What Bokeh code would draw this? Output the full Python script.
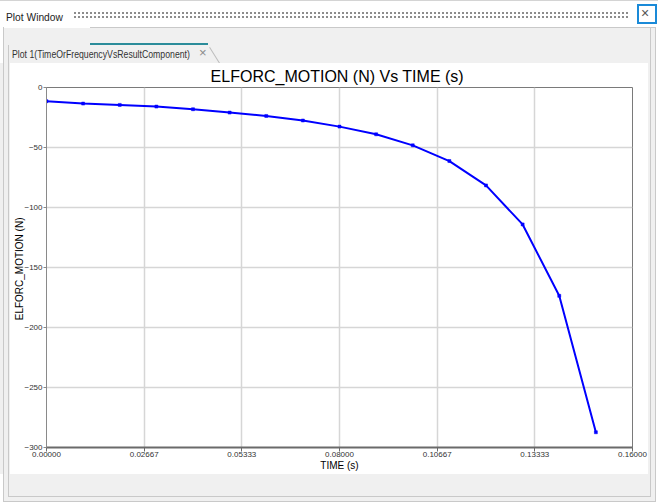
from bokeh.plotting import figure
from bokeh.models import Range1d, FixedTicker, PrintfTickFormatter, Div, Title
from bokeh.layouts import column, row
from bokeh.embed import file_html
from bokeh.resources import INLINE

# ---- data ----
time_s = [0.00, 0.01, 0.02, 0.03, 0.04, 0.05, 0.06, 0.07,
          0.08, 0.09, 0.10, 0.11, 0.12, 0.13, 0.14, 0.15]
elforc_motion = [-11.4, -13.4, -14.5, -15.9, -18.1, -20.9, -23.7, -27.5,
                 -32.6, -39.0, -48.2, -61.3, -81.6, -114.1, -173.6, -287.3]
x_ticks = [0.0, 0.16 / 6, 0.32 / 6, 0.08, 0.64 / 6, 0.80 / 6, 0.16]
y_ticks = [0, -50, -100, -150, -200, -250, -300]

title_text = "ELFORC_MOTION  (N) Vs TIME (s)"
x_label = "TIME (s)"
y_label = "ELFORC_MOTION  (N)"
window_title = "Plot Window"
tab_title = "Plot 1(TimeOrFrequencyVsResultComponent)"

CHART_FONT = "Liberation Sans"
UI_FONT = "Liberation Sans"
BAND = "#f0f0f0"
EDGE = "#c9c9c9"

# ---- window chrome: header (658 x 63) ----
header_html = f"""
<div style="position:relative;width:658px;height:63px;overflow:hidden;background:#ffffff;font-family:'{UI_FONT}';">
  <div style="position:absolute;left:0;top:0;width:658px;height:1px;background:#d4d4d4;"></div>
  <div style="position:absolute;left:6px;top:10px;font-size:11px;line-height:14px;color:#222;white-space:nowrap;
       transform:scaleX(0.93);transform-origin:0 0;">{window_title}</div>
  <div style="position:absolute;left:74px;top:12px;width:556px;height:7px;
       background-image:radial-gradient(circle at 1px 1px,#8c8c8c 0.9px,transparent 1.2px);
       background-size:4px 4px;"></div>
  <div style="position:absolute;left:637px;top:4px;width:20px;height:20px;box-sizing:border-box;border:2px solid #1a8ad8;"></div>
  <div style="position:absolute;left:641px;top:6px;font-size:14px;line-height:14px;color:#555;">&#215;</div>
  <div style="position:absolute;left:3px;top:28px;width:652px;height:35px;background:{BAND};"></div>
  <div style="position:absolute;left:90px;top:27px;width:566px;height:1px;background:{EDGE};"></div>
  <div style="position:absolute;left:3px;top:27px;width:1px;height:36px;background:{EDGE};"></div>
  <div style="position:absolute;left:8px;top:45px;width:1px;height:18px;background:{EDGE};"></div>
  <div style="position:absolute;left:650px;top:27px;width:1px;height:36px;background:{EDGE};"></div>
  <div style="position:absolute;left:655px;top:27px;width:1px;height:36px;background:{EDGE};"></div>
  <div style="position:absolute;left:90px;top:43px;width:118px;height:2px;background:#2b8c9a;"></div>
  <div style="position:absolute;left:12px;top:47px;font-size:10.5px;line-height:14px;color:#333;white-space:nowrap;
       transform:scaleX(0.83);transform-origin:0 0;">{tab_title}</div>
  <div style="position:absolute;left:199px;top:46px;font-size:13px;line-height:14px;color:#8a8a8a;">&#215;</div>
  <div style="position:absolute;left:210px;top:47px;width:19px;height:1px;background:#bdbdbd;transform-origin:0 0;transform:rotate(58deg);"></div>
</div>
"""
header = Div(text=header_html, width=658, height=63, margin=0)

# ---- the chart ----
p = figure(width=638, height=411,
           x_range=Range1d(0, 0.16), y_range=Range1d(-300, 0),
           output_backend="svg", toolbar_location=None,
           min_border_left=36, min_border_right=16,
           min_border_top=24, min_border_bottom=27)

p.title = Title(text=title_text, align="center", text_font=CHART_FONT,
                text_font_size="16px", text_font_style="normal",
                text_color="#000000", standoff=5)

p.background_fill_color = "#ffffff"
p.border_fill_color = "#ffffff"
p.outline_line_color = "#7a7a7a"
p.outline_line_width = 1

p.xaxis.ticker = FixedTicker(ticks=x_ticks)
p.yaxis.ticker = FixedTicker(ticks=y_ticks)
p.xaxis.formatter = PrintfTickFormatter(format="%.5f")
p.xgrid.ticker = FixedTicker(ticks=x_ticks)
p.ygrid.ticker = FixedTicker(ticks=y_ticks)

for g in (p.xgrid, p.ygrid):
    g.grid_line_color = "#d6d6d6"
    g.grid_line_width = 1.5

p.xaxis.axis_label = x_label
p.yaxis.axis_label = y_label

for ax in (p.xaxis, p.yaxis):
    ax.axis_label_text_font = CHART_FONT
    ax.axis_label_text_font_style = "normal"
    ax.axis_label_text_font_size = "10px"
    ax.axis_label_text_color = "#000000"
    ax.major_label_text_font = CHART_FONT
    ax.major_label_text_font_size = "8px"
    ax.major_label_text_color = "#333333"
    ax.minor_tick_line_color = None
    ax.major_tick_in = 0

p.xaxis.axis_line_color = "#6a6a6a"
p.xaxis.axis_line_width = 2
p.xaxis.major_tick_line_color = "#6a6a6a"
p.xaxis.major_tick_out = 4
p.xaxis.major_label_standoff = 0
p.xaxis.axis_label_standoff = 0

p.yaxis.axis_line_color = "#8a8a8a"
p.yaxis.axis_line_width = 1
p.yaxis.major_tick_line_color = "#8a8a8a"
p.yaxis.major_tick_out = 3
p.yaxis.major_label_standoff = 1
p.yaxis.axis_label_standoff = -4

p.line(time_s, elforc_motion, line_color="#0000ff", line_width=2)
p.scatter(time_s, elforc_motion, marker="square", size=3,
          fill_color="#0000ff", line_color="#0000ff", line_width=0.5)

# ---- side strips (10 x 411 each) ----
left_html = f"""
<div style="position:relative;width:10px;height:411px;background:{BAND};">
  <div style="position:absolute;left:3px;top:0;width:1px;height:411px;background:{EDGE};"></div>
  <div style="position:absolute;left:8px;top:0;width:1px;height:411px;background:{EDGE};"></div>
</div>
"""
right_html = f"""
<div style="position:relative;width:10px;height:411px;background:{BAND};">
  <div style="position:absolute;left:2px;top:0;width:1px;height:411px;background:{EDGE};"></div>
  <div style="position:absolute;left:7px;top:0;width:1px;height:411px;background:{EDGE};"></div>
  <div style="position:absolute;left:8px;top:0;width:2px;height:411px;background:#ffffff;"></div>
</div>
"""
left_strip = Div(text=left_html, width=10, height=411, margin=0)
right_strip = Div(text=right_html, width=10, height=411, margin=0)

# ---- footer (658 x 30) ----
footer_html = f"""
<div style="position:relative;width:658px;height:30px;background:#ffffff;">
  <div style="position:absolute;left:3px;top:0;width:653px;height:28px;background:{BAND};"></div>
  <div style="position:absolute;left:3px;top:0;width:1px;height:28px;background:{EDGE};"></div>
  <div style="position:absolute;left:8px;top:0;width:1px;height:23px;background:{EDGE};"></div>
  <div style="position:absolute;left:650px;top:0;width:1px;height:23px;background:{EDGE};"></div>
  <div style="position:absolute;left:655px;top:0;width:1px;height:28px;background:{EDGE};"></div>
  <div style="position:absolute;left:8px;top:22px;width:643px;height:1px;background:{EDGE};"></div>
  <div style="position:absolute;left:3px;top:27px;width:653px;height:1px;background:{EDGE};"></div>
</div>
"""
footer = Div(text=footer_html, width=658, height=30, margin=0)

layout = column(header, row(left_strip, p, right_strip, spacing=0), footer, spacing=0)

open("out.html", "w").write(file_html(layout, INLINE))
